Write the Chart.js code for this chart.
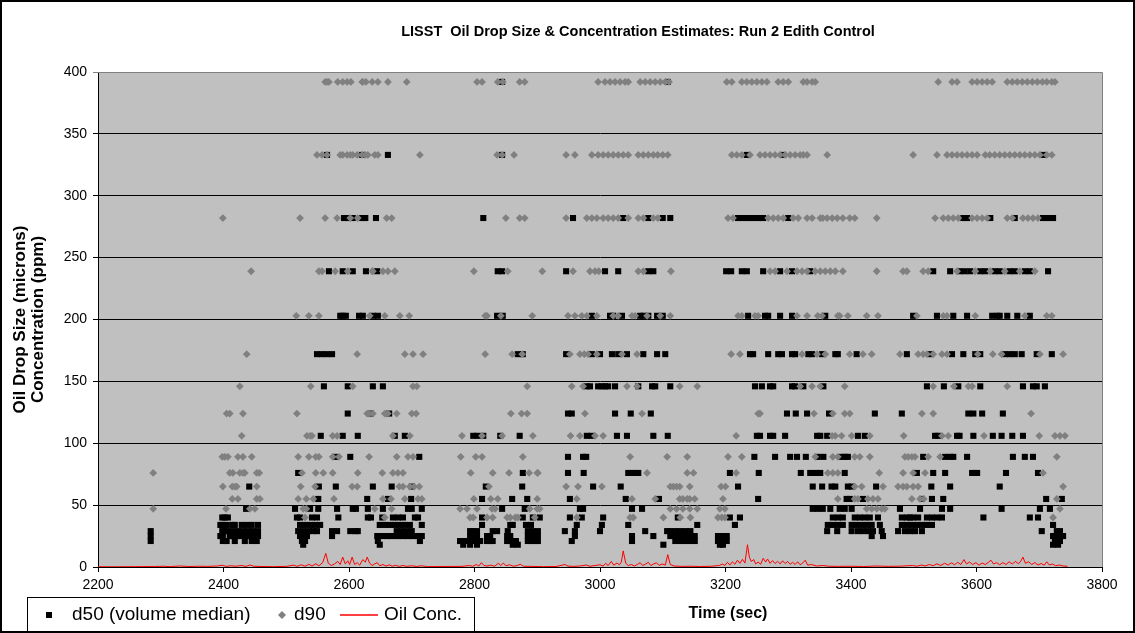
<!DOCTYPE html>
<html>
<head>
<meta charset="utf-8">
<title>LISST Run 2 Edith Control</title>
<script src="https://cdn.jsdelivr.net/npm/chart.js@4.4.1/dist/chart.umd.min.js"></script>
<style>
  html, body { margin: 0; padding: 0; background: #fff; }
  #wrap { width: 1135px; height: 633px; }
</style>
</head>
<body>
<div id="wrap"><canvas id="lisst_chart" width="1135" height="633"></canvas></div>
<script>
// LISST size bins that show up in this run (microns)
var SIZE_LEVELS = [392, 333, 282, 239, 203, 172, 146, 124, 106, 89, 76, 65, 55, 47, 40, 34, 29, 25, 21, 18];

// d90 sample times (sec), one row per size bin above
var d90Rows = [
  [2562, 2565, 2568, 2582, 2590, 2597, 2603, 2621, 2622, 2627, 2637, 2646, 2662, 2692, 2804, 2812, 2837, 2845, 2872, 2880, 2997, 3008, 3016, 3024, 3032, 3040, 3045, 3064, 3072, 3080, 3088, 3096, 3104, 3110, 3202, 3210, 3226, 3234, 3242, 3250, 3258, 3266, 3284, 3292, 3300, 3324, 3330, 3338, 3343, 3539, 3561, 3569, 3593, 3601, 3609, 3617, 3625, 3649, 3657, 3665, 3673, 3681, 3689, 3697, 3705, 3712, 3720, 3725],
  [2549, 2557, 2565, 2586, 2590, 2597, 2602, 2606, 2613, 2621, 2626, 2630, 2641, 2646, 2713, 2836, 2844, 2863, 2946, 2960, 2987, 2997, 3005, 3013, 3021, 3029, 3037, 3045, 3061, 3069, 3077, 3085, 3092, 3100, 3108, 3210, 3218, 3226, 3239, 3255, 3263, 3271, 3279, 3287, 3295, 3303, 3311, 3319, 3324, 3330, 3362, 3499, 3537, 3553, 3561, 3569, 3577, 3585, 3593, 3601, 3614, 3621, 3629, 3637, 3645, 3653, 3661, 3669, 3677, 3685, 3693, 3701, 3712, 3720],
  [2399, 2522, 2562, 2581, 2602, 2614, 2660, 2668, 2850, 2872, 2880, 2946, 2979, 2987, 2995, 3005, 3013, 3021, 3029, 3045, 3061, 3069, 3085, 3092, 3204, 3212, 3268, 3276, 3284, 3292, 3308, 3316, 3330, 3338, 3351, 3355, 3362, 3370, 3378, 3387, 3398, 3406, 3441, 3534, 3547, 3555, 3563, 3571, 3593, 3601, 3609, 3617, 3649, 3657, 3674, 3682, 3690, 3698],
  [2444, 2552, 2557, 2578, 2598, 2637, 2638, 2654, 2662, 2673, 2799, 2853, 2908, 2957, 2984, 2992, 2998, 3061, 3069, 3113, 3271, 3279, 3298, 3314, 3322, 3330, 3343, 3351, 3359, 3367, 3375, 3387, 3441, 3483, 3489, 3515, 3523, 3569, 3598, 3622, 3645, 3669, 3693],
  [2516, 2536, 2552, 2633, 2657, 2681, 2696, 2817, 2820, 2842, 2892, 2949, 2960, 2971, 2979, 2995, 3021, 3029, 3051, 3056, 3075, 3096, 3112, 3220, 3226, 3247, 3252, 3314, 3330, 3347, 3354, 3379, 3382, 3395, 3425, 3443, 3505, 3547, 3553, 3598, 3677, 3712, 3720],
  [2437, 2613, 2689, 2702, 2718, 2817, 2860, 2876, 2952, 2968, 2975, 2981, 2995, 3035, 3059, 3209, 3223, 3322, 3346, 3359, 3398, 3419, 3433, 3478, 3507, 3515, 3521, 3531, 3545, 3553, 3602, 3626, 3640, 3701, 3738],
  [2426, 2539, 2606, 2702, 2708, 2884, 2955, 2973, 3043, 3059, 3127, 3155, 3319, 3338, 3351, 3390, 3531, 3564, 3587, 3593, 3649],
  [2405, 2410, 2431, 2517, 2629, 2632, 2638, 2657, 2662, 2676, 2700, 2707, 2858, 2875, 2884, 2976, 3067, 3252, 3255, 3341, 3371, 3390, 3398, 3513, 3531, 3687],
  [2429, 2533, 2538, 2541, 2574, 2581, 2670, 2697, 2780, 2812, 2844, 2893, 2953, 2968, 2992, 3005, 3217, 3370, 3375, 3385, 3401, 3430, 3484, 3545, 3555, 3612, 3700, 3725, 3733, 3741],
  [2398, 2402, 2407, 2423, 2431, 2445, 2519, 2536, 2547, 2552, 2574, 2584, 2632, 2676, 2694, 2702, 2778, 2802, 2812, 2877, 3048, 3107, 3139, 3204, 3226, 3343, 3371, 3379, 3406, 3414, 3430, 3486, 3491, 3497, 3502, 3523, 3542, 3728],
  [2288, 2410, 2415, 2426, 2431, 2434, 2453, 2457, 2525, 2547, 2559, 2574, 2614, 2653, 2670, 2678, 2686, 2794, 2829, 2855, 2887, 2900, 2901, 3075, 3139, 3149, 3217, 3363, 3371, 3379, 3445, 3483, 3499, 3518, 3706],
  [2399, 2414, 2418, 2421, 2453, 2523, 2546, 2605, 2613, 2680, 2686, 2697, 2704, 2712, 2823, 2946, 2965, 3003, 3112, 3117, 3122, 3127, 3143, 3193, 3200, 3406, 3417, 3451, 3475, 3483, 3489, 3499, 3507, 3738],
  [2414, 2423, 2453, 2458, 2519, 2532, 2543, 2576, 2654, 2667, 2689, 2710, 2716, 2799, 2826, 2837, 2900, 2963, 3051, 3088, 3127, 3132, 3139, 3143, 3151, 3196, 3379, 3406, 3411, 3427, 3435, 3443, 3497, 3510, 3516, 3728],
  [2288, 2404, 2442, 2450, 2527, 2532, 2641, 2668, 2777, 2788, 2804, 2828, 2833, 2888, 2900, 2904, 3112, 3122, 3132, 3143, 3155, 3191, 3199, 3425, 3433, 3441, 3449, 3454, 3733],
  [2530, 2657, 2793, 2798, 2820, 2829, 2852, 2857, 2865, 2869, 2896, 2963, 3048, 3053, 3101, 3128, 3144, 3188, 3194, 3199, 3722],
  [], [], [], [], []
];

// d50 (volume median) sample times (sec), same bins
var d50Rows = [
  [2844, 3108],
  [2565, 2621, 2662, 2844, 3234, 3292, 3706],
  [2592, 2598, 2606, 2621, 2626, 2643, 2814, 2957, 3037, 3077, 3100, 3112, 3220, 3228, 3236, 3244, 3252, 3260, 3300, 3579, 3585, 3622, 3661, 3706, 3714, 3722],
  [2568, 2590, 2606, 2627, 2645, 2837, 2844, 2946, 3008, 3029, 3077, 3085, 3201, 3209, 3226, 3234, 3260, 3287, 3306, 3335, 3531, 3558, 3573, 3581, 3590, 3606, 3614, 3629, 3637, 3653, 3661, 3677, 3685, 3714],
  [2586, 2590, 2595, 2616, 2622, 2638, 2646, 2836, 2845, 2987, 3016, 3021, 3035, 3064, 3069, 3077, 3091, 3100, 3236, 3263, 3268, 3287, 3306, 3359, 3499, 3537, 3563, 3585, 3625, 3633, 3637, 3649, 3665, 3685],
  [2549, 2557, 2565, 2573, 2869, 2877, 2946, 2987, 3000, 3019, 3029, 3043, 3069, 3091, 3104, 3239, 3244, 3268, 3284, 3290, 3306, 3311, 3332, 3338, 3354, 3375, 3379, 3409, 3489, 3526, 3561, 3579, 3598, 3606, 3645, 3653, 3661, 3672, 3696, 3720],
  [2560, 2598, 2638, 2654, 2979, 2984, 2997, 3003, 3008, 3013, 3024, 3061, 3083, 3088, 3112, 3247, 3258, 3271, 3276, 3306, 3311, 3324, 3356, 3521, 3548, 3571, 3606, 3674, 3690, 3696, 3709],
  [2598, 2635, 2664, 2949, 2955, 3024, 3049, 3081, 3298, 3312, 3330, 3365, 3438, 3481, 3587, 3595, 3609, 3642],
  [2555, 2590, 2614, 2673, 2689, 2798, 2804, 2814, 2841, 2872, 2979, 2987, 3027, 3043, 3085, 3108, 3250, 3255, 3271, 3276, 3295, 3346, 3351, 3362, 3411, 3422, 3534, 3539, 3569, 3573, 3595, 3626, 3640, 3657, 3674],
  [2578, 2602, 2712, 2949, 2973, 2978, 3246, 3279, 3303, 3314, 3328, 3347, 3356, 3385, 3390, 3395, 3515, 3550, 3558, 3563, 3585, 3658, 3677, 3690],
  [2519, 2877, 2949, 2974, 3045, 3053, 3061, 3207, 3253, 3320, 3335, 3344, 3351, 3390, 3505, 3531, 3550, 3593, 3601, 3647, 3698],
  [2441, 2552, 2579, 2638, 2668, 2700, 2818, 2876, 2989, 3033, 3220, 3339, 3354, 3369, 3375, 3395, 3401, 3440, 3528, 3558, 3637],
  [2551, 2629, 2662, 2699, 2812, 2860, 2884, 2952, 3041, 3094, 3252, 3393, 3398, 3419, 3513, 3529, 3547, 3711, 3736],
  [2436, 2514, 2538, 2551, 2581, 2606, 2611, 2630, 2654, 2694, 2700, 2716, 2844, 2880, 2968, 2973, 3051, 3067, 3339, 3347, 3355, 3367, 3382, 3390, 3401, 3478, 3510, 3545, 3558, 3640, 3701, 3717],
  [2398, 2402, 2407, 2517, 2522, 2541, 2549, 2583, 2630, 2635, 2653, 2670, 2678, 2686, 2705, 2710, 2812, 2877, 2893, 2904, 2952, 2971, 3005, 3124, 3207, 3223, 3371, 3379, 3387, 3406, 3414, 3422, 3430, 3443, 3481, 3489, 3494, 3499, 3507, 3521, 3529, 3537, 3545, 3611, 3685, 3698],
  [2395, 2399, 2405, 2414, 2418, 2429, 2437, 2445, 2455, 2522, 2530, 2538, 2546, 2554, 2649, 2657, 2665, 2673, 2681, 2689, 2697, 2716, 2812, 2857, 2861, 2882, 2890, 2963, 3003, 3045, 3155, 3215, 3363, 3371, 3379, 3387, 3401, 3409, 3417, 3425, 3433, 3446, 3481, 3489, 3497, 3505, 3513, 3521, 3529, 3722],
  [2284, 2398, 2402, 2407, 2415, 2423, 2431, 2439, 2447, 2455, 2519, 2527, 2535, 2543, 2549, 2573, 2581, 2602, 2610, 2614, 2676, 2684, 2692, 2700, 2793, 2798, 2804, 2829, 2836, 2853, 2885, 2893, 2901, 2944, 2960, 3000, 3072, 3107, 3112, 3120, 3128, 3136, 3144, 3362, 3378, 3401, 3411, 3419, 3427, 3435, 3449, 3475, 3486, 3494, 3502, 3513, 3704, 3728, 3733],
  [2284, 2395, 2399, 2410, 2415, 2421, 2426, 2434, 2442, 2450, 2455, 2522, 2527, 2533, 2573, 2645, 2653, 2661, 2669, 2678, 2686, 2694, 2702, 2710, 2716, 2793, 2798, 2804, 2820, 2825, 2852, 2857, 2885, 2891, 2896, 2901, 2960, 3051, 3085, 3112, 3120, 3128, 3136, 3144, 3151, 3188, 3196, 3202, 3433, 3451, 3722, 3728, 3733, 3738],
  [2284, 2399, 2405, 2418, 2434, 2445, 2453, 2525, 2530, 2646, 2713, 2777, 2782, 2788, 2793, 2798, 2804, 2809, 2820, 2825, 2829, 2852, 2857, 2861, 2866, 2885, 2891, 2896, 2901, 2955, 3051, 3120, 3128, 3136, 3144, 3151, 3188, 3196, 3202, 3725, 3733],
  [2527, 2649, 2782, 2793, 2804, 2861, 2869, 3101, 3191, 3196, 3722, 3730]
];

// oil concentration trace: [time (sec), ppm]
var oilTrace = [
  [2200, 0.2], [2230, 0.2], [2260, 0.3], [2290, 0.4], [2305, 0.6], [2315, 0.3], [2330, 0.8], [2345, 0.4], [2360, 0.6], [2375, 0.5],
  [2390, 0.8], [2398, 1.4], [2404, 0.5], [2412, 1.0], [2420, 0.6], [2428, 1.2], [2436, 0.5], [2442, 1.6], [2448, 0.6], [2460, 0.4],
  [2480, 0.3], [2500, 0.5], [2512, 1.5], [2517, 0.5], [2524, 1.8], [2530, 0.6], [2536, 2.2], [2541, 0.8], [2547, 2.6], [2552, 1.0],
  [2558, 3.5], [2563, 11], [2567, 3], [2572, 1.2], [2577, 2.5], [2582, 4.5], [2586, 2], [2590, 8], [2594, 2.5], [2598, 5],
  [2601, 2], [2605, 8], [2609, 2], [2613, 3.5], [2617, 1.5], [2622, 6], [2626, 4], [2629, 8], [2633, 3], [2637, 1.2],
  [2641, 2.5], [2645, 3.5], [2649, 1], [2654, 2], [2659, 0.7], [2664, 1.8], [2669, 0.6], [2674, 1.4], [2680, 0.5], [2686, 1.2],
  [2692, 0.5], [2700, 1.0], [2708, 0.4], [2715, 1.0], [2725, 0.3], [2750, 0.4], [2780, 0.5], [2792, 1.2], [2797, 0.5], [2803, 2],
  [2807, 0.8], [2811, 3.5], [2815, 1.2], [2820, 0.8], [2826, 1.5], [2832, 0.6], [2838, 3.0], [2842, 1.2], [2846, 3.2], [2850, 1.0],
  [2856, 1.8], [2862, 0.6], [2868, 1.2], [2873, 2.2], [2878, 0.6], [2890, 0.5], [2910, 0.3], [2930, 0.4], [2944, 2.0], [2949, 0.7],
  [2958, 0.5], [2968, 0.8], [2978, 1.6], [2984, 0.6], [2992, 1.2], [3000, 1.8], [3005, 0.8], [3009, 3], [3013, 1.2], [3018, 4.5],
  [3022, 1.5], [3027, 3.2], [3031, 1.8], [3034, 4], [3037, 13], [3041, 3], [3045, 1.2], [3050, 2], [3055, 0.8], [3060, 2.2],
  [3064, 3.5], [3068, 1.2], [3073, 2.5], [3077, 3.8], [3081, 1.2], [3086, 2.6], [3090, 3.4], [3094, 1.3], [3099, 2.5], [3104, 1.5],
  [3108, 10], [3112, 2], [3118, 0.8], [3130, 0.5], [3145, 0.6], [3160, 0.4], [3178, 0.6], [3190, 1.2], [3195, 2.4], [3199, 1.2],
  [3203, 3.8], [3207, 1.6], [3211, 4.2], [3215, 2.2], [3219, 5.5], [3223, 3.0], [3227, 6.2], [3231, 3.2], [3235, 18], [3238, 8],
  [3241, 4.5], [3245, 6], [3248, 2.5], [3252, 4], [3256, 2.2], [3260, 7], [3264, 4], [3267, 6.5], [3271, 3], [3275, 5.2],
  [3279, 2.8], [3283, 4.6], [3287, 2.5], [3291, 5], [3295, 2.8], [3299, 4.5], [3303, 2.2], [3307, 3.8], [3311, 2], [3315, 4.2],
  [3319, 1.8], [3323, 3.2], [3327, 5.5], [3331, 1.5], [3337, 2.0], [3345, 0.8], [3355, 1.2], [3365, 0.6], [3380, 0.5], [3400, 0.6],
  [3420, 0.4], [3440, 0.8], [3460, 0.5], [3480, 0.7], [3498, 1.2], [3505, 0.6], [3512, 1.6], [3518, 0.8], [3525, 2.0], [3531, 1.0],
  [3537, 2.6], [3543, 1.2], [3549, 3.0], [3555, 1.6], [3560, 3.4], [3565, 1.8], [3570, 3.8], [3575, 2], [3580, 6], [3584, 2.5],
  [3589, 4], [3594, 2], [3599, 3.5], [3604, 1.5], [3609, 3.2], [3614, 2], [3619, 3.8], [3623, 5.5], [3627, 2.5], [3632, 3.5],
  [3637, 1.8], [3642, 3.6], [3647, 2], [3652, 4.2], [3657, 2.4], [3662, 4.5], [3667, 2.6], [3671, 5], [3674, 8], [3678, 3],
  [3683, 4.2], [3688, 2], [3693, 3.6], [3698, 1.6], [3703, 2.8], [3708, 1.5], [3712, 4.2], [3716, 1.6], [3721, 2.4], [3726, 1.0],
  [3732, 1.6], [3738, 0.8], [3745, 0.6]
];

var xTicks = [2200, 2400, 2600, 2800, 3000, 3200, 3400, 3600, 3800];
var yTicks = [0, 50, 100, 150, 200, 250, 300, 350, 400];

function rowsToPoints(rows) {
  var pts = [];
  rows.forEach(function(times, i) {
    times.forEach(function(t) { pts.push({x: t, y: SIZE_LEVELS[i]}); });
  });
  return pts;
}

var oilPoints = oilTrace.map(function(p) { return {x: p[0], y: p[1]}; });

var FONT = "'Liberation Sans', Arial, sans-serif";

// gray plot area, gray top/right frame, outer border, title, x label and boxed legend
var excelFrame = {
  id: 'excelFrame',
  beforeDraw: function(chart) {
    var a = chart.chartArea, ctx = chart.ctx;
    ctx.save();
    ctx.fillStyle = '#fff';
    ctx.fillRect(0, 0, chart.width, chart.height);
    ctx.fillStyle = '#c0c0c0';
    ctx.fillRect(a.left, a.top, a.right - a.left, a.bottom - a.top);
    ctx.restore();
  },
  afterDraw: function(chart) {
    var a = chart.chartArea, ctx = chart.ctx;
    ctx.save();
    ctx.strokeStyle = '#808080';
    ctx.lineWidth = 1;
    ctx.beginPath();
    ctx.moveTo(a.left, Math.round(a.top) + 0.5);
    ctx.lineTo(Math.round(a.right) + 0.5, Math.round(a.top) + 0.5);
    ctx.lineTo(Math.round(a.right) + 0.5, a.bottom);
    ctx.stroke();

    // outer border
    ctx.strokeStyle = '#000';
    ctx.lineWidth = 2;
    ctx.strokeRect(1, 1, chart.width - 2, chart.height - 2);

    ctx.fillStyle = '#000';
    ctx.textBaseline = 'middle';
    ctx.textAlign = 'center';
    ctx.font = 'bold 14.5px ' + FONT;
    ctx.fillText('LISST  Oil Drop Size & Concentration Estimates: Run 2 Edith Control', 638, 32);
    ctx.font = 'bold 16px ' + FONT;
    ctx.fillText('Time (sec)', 728, 614);

    // legend
    var ly = 615;
    var ds = chart.data.datasets;
    ctx.lineWidth = 1;
    ctx.strokeStyle = '#000';
    ctx.strokeRect(27.5, 597.5, 447, 60);
    ctx.textAlign = 'left';
    ctx.font = '19px ' + FONT;
    ctx.fillStyle = ds[0].backgroundColor;
    ctx.fillRect(46, ly - 3, 6, 6);
    ctx.fillStyle = '#000';
    ctx.fillText(ds[0].label, 72, ly);
    ctx.fillStyle = ds[1].backgroundColor;
    ctx.beginPath();
    ctx.moveTo(282, ly - 4); ctx.lineTo(286, ly); ctx.lineTo(282, ly + 4); ctx.lineTo(278, ly);
    ctx.closePath();
    ctx.fill();
    ctx.fillStyle = '#000';
    ctx.fillText(ds[1].label, 294, ly);
    ctx.strokeStyle = '#ff0000';
    ctx.lineWidth = 1.5;
    ctx.beginPath();
    ctx.moveTo(340, ly); ctx.lineTo(378, ly);
    ctx.stroke();
    ctx.fillText(ds[2].label, 384, ly);
    ctx.restore();
  }
};

var ctx = document.getElementById('lisst_chart');
var lisst_chart = new Chart(ctx, {
  type: 'scatter',
  data: {
    datasets: [
      {
        label: 'd50 (volume median)',
        data: rowsToPoints(d50Rows),
        pointStyle: 'rect',
        pointRadius: 4.3,
        borderWidth: 0,
        backgroundColor: '#000000',
        order: 2
      },
      {
        label: 'd90',
        data: rowsToPoints(d90Rows),
        pointStyle: 'rectRot',
        pointRadius: 3.9,
        borderWidth: 0,
        backgroundColor: '#808080',
        order: 1
      },
      {
        label: 'Oil Conc.',
        data: oilPoints,
        showLine: true,
        pointRadius: 0,
        borderColor: '#ff0000',
        backgroundColor: '#ff0000',
        borderWidth: 1,
        order: 0
      }
    ]
  },
  options: {
    responsive: false,
    animation: false,
    devicePixelRatio: 1,
    layout: { padding: { top: 72, right: 33, left: 0, bottom: 0 } },
    plugins: {
      legend: { display: false },
      title: { display: false },
      tooltip: { enabled: false }
    },
    scales: {
      x: {
        type: 'linear',
        min: 2200,
        max: 3800,
        afterBuildTicks: function(s) { s.ticks = xTicks.map(function(v) { return {value: v}; }); },
        ticks: {
          color: '#000',
          font: { family: FONT, size: 14 },
          padding: 5,
          maxRotation: 0,
          callback: function(v) { return String(v); }
        },
        grid: { drawOnChartArea: false, drawTicks: true, tickLength: 5, color: '#000' },
        border: { color: '#000', width: 1 },
        afterFit: function(s) { s.height = 66; }
      },
      y: {
        min: 0,
        max: 400,
        afterBuildTicks: function(s) { s.ticks = yTicks.map(function(v) { return {value: v}; }); },
        ticks: {
          color: '#000',
          font: { family: FONT, size: 14 },
          padding: 6,
          callback: function(v) { return String(v); }
        },
        grid: {
          color: function(c) { return c.tick && c.tick.value === 400 ? '#808080' : '#000'; },
          tickLength: 5,
          drawTicks: true
        },
        border: { color: '#000', width: 1 },
        title: {
          display: true,
          text: ['Oil Drop Size (microns)', 'Concentration (ppm)'],
          color: '#000',
          font: { family: FONT, size: 17, weight: 'bold', lineHeight: 1.06 },
          padding: { top: 11, bottom: 0 }
        },
        afterFit: function(s) { s.width = 98; }
      }
    }
  },
  plugins: [excelFrame]
});
</script>
</body>
</html>
